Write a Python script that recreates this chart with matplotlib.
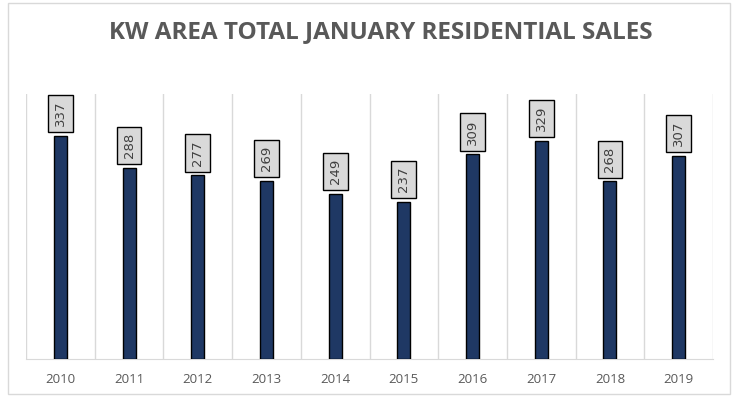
import matplotlib.pyplot as plt
from matplotlib.patches import Rectangle

years = ['2010', '2011', '2012', '2013', '2014', '2015', '2016', '2017', '2018', '2019']
sales = [337, 288, 277, 269, 249, 237, 309, 329, 268, 307]

fig = plt.figure(figsize=(7.4, 4.0), dpi=100)
fig.patch.set_facecolor('white')

# outer chart border
fig.add_artist(Rectangle((8 / 740, 6 / 400), 722 / 740, 391 / 400, transform=fig.transFigure,
                         fill=False, edgecolor='#d9d9d9', linewidth=1))

ax = fig.add_axes([26 / 740, 41 / 400, 687 / 740, 265 / 400])
x = list(range(len(years)))
ax.bar(x, sales, width=0.19, color='#1f3864', edgecolor='black', linewidth=1, zorder=3)
ax.set_xlim(-0.5, len(years) - 0.5)
ax.set_ylim(0, 400)

# vertical gridlines at category boundaries
for b in range(len(years) + 1):
    ax.axvline(b - 0.5, color='#d9d9d9', linewidth=1, zorder=1)

for s in ['top', 'right', 'left']:
    ax.spines[s].set_visible(False)
ax.spines['bottom'].set_color('#d9d9d9')
ax.set_yticks([])
ax.set_xticks(x)
ax.set_xticklabels(years, fontsize=9.5, color='#595959', family='Open Sans')
ax.tick_params(axis='x', length=0, pad=10)

# data labels: rotated, in grey boxes just above each bar
for xi, v in zip(x, sales):
    ax.annotate(str(v), (xi, v), xytext=(0, 7), textcoords='offset points',
                ha='center', va='bottom', rotation=90, fontsize=9.5, color='#404040',
                bbox=dict(boxstyle='square,pad=0.45', facecolor='#d9d9d9', edgecolor='black', linewidth=1),
                zorder=4)

fig.text(0.514, 0.92, 'KW AREA TOTAL JANUARY RESIDENTIAL SALES', ha='center', va='center',
         fontsize=17.5, fontweight='bold', color='#595959', family='Open Sans')

fig.savefig('out.png', dpi=100)
